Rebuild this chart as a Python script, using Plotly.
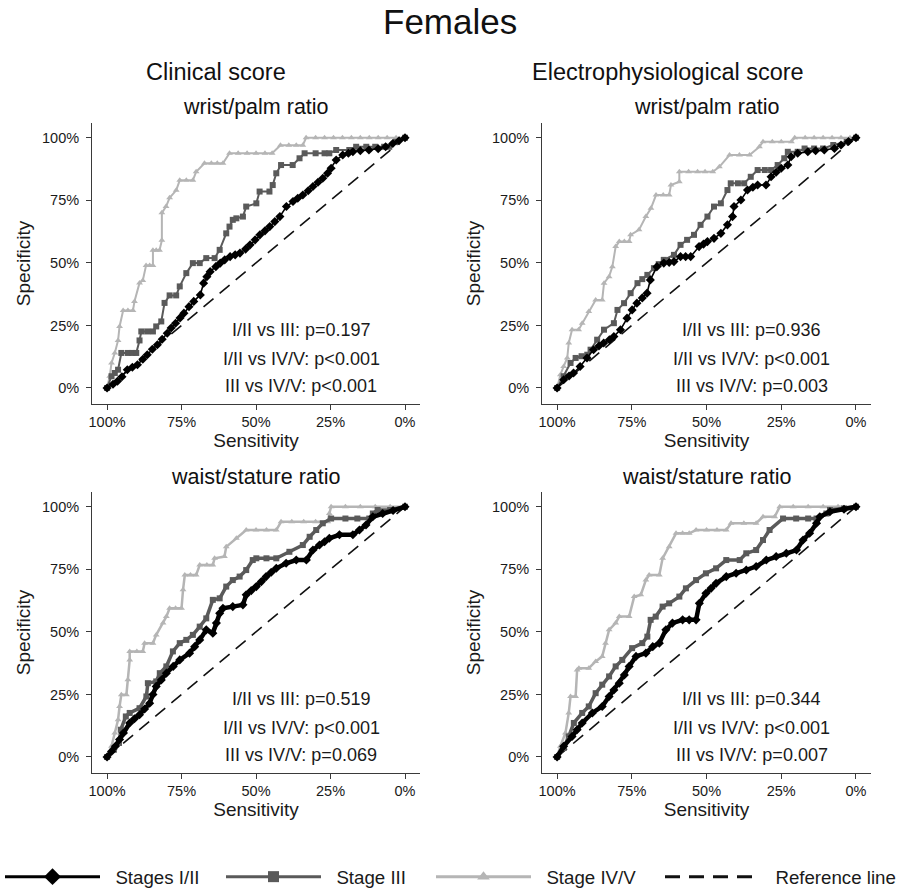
import plotly.graph_objects as go

FONT = "Liberation Sans, Arial, sans-serif"

# ---------------- data: (sensitivity %, specificity %) ----------------
# Panel A: Clinical score, wrist/palm ratio
A_I_II = [(100,0),(98,1.5),(96.5,2.7),(95,4.5),(93.2,7.3),(91.5,8.3),(89.8,9.3),(88,11.5),(86.5,13.3),
          (84.8,15.5),(83.1,17.3),(81.5,19.5),(79.8,21.9),(78.5,24),(77,25.9),(75.5,28),(74.2,29.9),
          (72.5,32.5),(70.9,34.6),(68.7,37.2),(67.6,41.9),(66.5,44.5),(65.4,46.5),(63.5,48.5),(62,49.9),
          (60.5,51.2),(58.7,52.5),(57,53.2),(55.4,53.9),(53.5,55.5),(52,57.2),(50.3,59.2),(48.7,61.2),
          (47,62.8),(45.4,64.5),(43.7,66.5),(42,68.5),(39.8,72.5),(37.6,74.5),(36,75.8),(34.3,77.1),
          (32.5,78.8),(30.9,80.5),(29.2,82.2),(27.6,83.8),(26,85.8),(24.8,87.8),(23.1,91.1),(20.9,93.1),
          (19,93.8),(17.5,94.4),(15,94.8),(12.1,95.1),(9,95.6),(6.5,96.4),(4.1,97.7),(2,98.8),(0,100)]
A_III = [(100,0),(98.5,4.7),(97.4,6),(96.3,7.3),(95.2,14),(93,14),(91.5,14),(90.2,14),(89.1,19),(88.5,22.6),
         (86.5,22.6),(84.6,22.6),(83.5,24.6),(81.8,26.6),(80.7,34),(79,37),(76.8,37),(75.6,40.6),(73.4,45.9),
         (71.2,49.9),(68.9,49.9),(66.7,51.9),(63.9,51.9),(62.2,55.2),(60,61.8),(58.9,64.5),(57.8,67.2),
         (56.6,67.8),(54.4,68.5),(53.3,72.5),(49.9,73.8),(48.8,78.5),(45.5,78.5),(44.4,81.1),(43.2,85.8),
         (41.6,89.1),(37.7,89.1),(35.4,91.8),(33.7,93.8),(30,93.8),(27,93.8),(25.4,93.8),(23.1,95.1),
         (18.7,95.1),(16.4,96.4),(13,96.4),(10,96.4),(7,96.4),(5.3,96.4),(3,98.4),(0,100)]
A_IV_V = [(100,0),(99.1,4.7),(98.5,10),(97.4,14),(96.3,19),(95.8,24.6),(94.6,31),(93,31),(91.3,31),(90.8,34.6),
          (89.1,42),(88,43),(86.9,49),(85.7,49),(84.6,49),(84.6,55),(83.5,55),(82.4,55),(81.6,59),(81.6,70),
          (80.2,72.5),(79,76),(76.8,79),(75.6,83),(73.4,83),(71.2,83),(70.1,86.4),(67.3,89.8),(65,89.8),
          (63,89.8),(61.1,89.8),(58.9,93.8),(56,93.8),(53,93.8),(50,93.8),(47,93.8),(44.6,93.8),(41.8,97),
          (39,97),(36.5,97),(34.3,97),(33.2,100),(30,100),(27,100),(24,100),(21,100),(18,100),(15,100),
          (12,100),(9,100),(6,100),(3,100),(0,100)]

# Panel B: Electrophysiological score, wrist/palm ratio
B_I_II = [(100,0),(97.8,3.3),(96,4.8),(94.5,6),(92.3,8.6),(90,12),(87.8,15.3),(86,16.8),(84.4,18),(82.5,19.3),
          (81,20.6),(78.8,23.3),(76.6,27.9),(74.9,31.2),(73.3,33.9),(71.5,36),(69.9,37.9),(68.8,43.2),
          (66.6,48.5),(64.3,49.9),(62.5,50.2),(60.9,50.5),(58.7,52.5),(57,52.5),(55.3,52.5),(52.5,56.5),
          (51,57.5),(49.7,58.5),(47.5,59.8),(45.2,61.8),(43,65.2),(41.3,68.5),(40.8,72.5),(38.5,75.1),
          (36.3,79.1),(34.5,80.2),(32.9,81.1),(30.1,81.1),(28.4,84.4),(26.7,86.2),(25,87.8),(22.8,89.1),
          (21.7,92.4),(19.5,93.8),(16.1,94.4),(13.5,94.8),(10.6,95.1),(7.2,95.7),(5,97.1),(2.5,98.5),(0,100)]
B_III = [(100,0),(97.8,4.7),(95.5,10),(93.8,12),(91.8,12.7),(89.9,13.3),(88.8,15.3),(86.6,19.3),(84.3,23.3),
         (81,25.9),(79.8,31.2),(77.6,33.9),(75.4,37.9),(73.1,41.9),(71.5,43.5),(69.8,45.2),(67.6,47.9),
         (66,49.5),(64.3,51.2),(60.9,53.2),(58.7,57.2),(56.5,59.2),(54.2,61.2),(52,65.2),(49.7,68.5),
         (47.5,72.5),(45.2,73.8),(43,79.1),(41.9,81.8),(39.5,81.8),(37.4,81.8),(35.2,84.4),(32.9,87.1),
         (30.5,87.1),(28.4,87.1),(26.2,89.1),(24,91.8),(22.8,94.4),(19.5,94.4),(17.2,95.7),(14,95.7),
         (11,95.7),(7.6,97.1),(3.1,98.4),(0,100)]
B_IV_V = [(100,0),(98.9,5.3),(97.8,8.6),(96.6,12),(96.1,18),(95,23.3),(92.8,23.3),(91.6,25.9),(89.4,30.6),
          (87.1,35.2),(84.9,35.2),(84.3,41.9),(82.6,44.5),(81.5,48.5),(80.4,56.5),(79.2,58.5),(77.5,58.5),
          (75.9,58.5),(75.4,61.2),(72.6,63.2),(70.3,68.5),(68.6,71.8),(66.9,77.1),(64.5,77.1),(62.5,77.1),
          (61.9,81.1),(59.1,82.4),(59.1,86.4),(56,86.4),(53,86.4),(50.5,86.4),(47.9,86.4),(45.7,88.4),
          (42.3,93.1),(39,93.1),(35.6,93.1),(32.3,96.4),(31.1,98.4),(28,98.4),(25,98.4),(21.6,98.4),
          (20.5,100),(17,100),(14,100),(11,100),(8,100),(5,100),(2,100),(0,100)]

# Panel C: Clinical score, waist/stature ratio
C_I_II = [(100,0),(98.5,2.2),(97.2,4.3),(95.8,7),(94.5,9.6),(92.4,13.6),(90.8,15.3),(89.1,16.9),(87.4,19.2),
          (85.7,21.5),(84.6,25),(83.5,28.2),(81.8,30.8),(80.1,33.5),(77.8,36.2),(75.6,38.8),(72.3,41.5),
          (70.6,44.1),(68.9,46.8),(66.7,50.8),(64.5,49.5),(63.3,53.5),(62.2,57.4),(61.1,59.4),(57.8,60.1),
          (54.4,60.8),(53.3,64.8),(51.6,66.5),(49.9,68.1),(48.2,70.1),(46.6,72.1),(44.9,73.8),(43.2,75.4),
          (39.9,77.4),(36.5,78.7),(33.1,78.7),(30.9,82.7),(28.7,84.7),(27,86),(25.4,87.4),(22,88.8),
          (17.5,88.8),(15.3,90.7),(13.1,92.7),(10.8,96),(7.5,97.3),(4,98.5),(0,100)]
C_III = [(100,0),(97.7,2.9),(96,5.6),(95.4,10.9),(93.7,16.2),(92.4,17.6),(89.1,19.5),(86.8,24.2),(86.3,29.5),
         (83.5,30.2),(82.3,33.5),(80.1,36.2),(77.9,42.2),(75.6,45.5),(73.4,46.8),(71.2,48.8),(68.9,52.1),
         (66.7,55.4),(64.5,62.8),(62.2,63.4),(60,68.1),(57.8,70.7),(55.5,72.1),(53.3,74.7),(51.1,78.7),
         (49.9,79.4),(46.5,79.4),(43.2,79.4),(38.8,82),(34.3,84.7),(32,88),(29.8,90.7),(27.6,93.4),
         (24.8,95.3),(20,95.3),(16,95.3),(12,95.3),(10.8,97.3),(9.2,98.7),(5,98.7),(0,100)]
C_IV_V = [(100,0),(98.5,4.3),(97.4,9.6),(96.3,14.9),(95.8,20.2),(95.2,24.9),(93.5,24.9),(93,30.9),(92.4,38.8),
          (92.4,42.2),(90,42.2),(88,42.2),(87.4,45.5),(84.6,45.5),(83.5,48.8),(81.2,53.5),(80.1,56.1),
          (79,59.4),(77,59.4),(75,59.4),(74.5,66.8),(73.9,72.7),(72,72.7),(70.1,72.7),(68.9,76.7),(66.5,76.7),
          (64.5,76.7),(63.9,79.4),(60.6,80.1),(60,84),(56.6,87.4),(53.3,90.7),(50,90.7),(46.5,90.7),
          (43.2,90.7),(41.6,94),(38,94),(34,94),(30,94),(25.9,94),(25.4,97.3),(24.8,100),(20,100),(15,100),
          (10,100),(5,100),(0,100)]

# Panel D: Electrophysiological score, waist/stature ratio
D_I_II = [(100,0),(97.8,4.3),(95,8.2),(93.3,10.9),(91.6,13.6),(88.2,17.6),(84.9,20.2),(82.6,24.2),(81,26.8),
          (79.2,29.5),(77.5,32.8),(75.9,36.2),(73.6,40.2),(70.3,41.5),(68,44.1),(65.8,45.5),(63.6,50.8),
          (61.4,53.5),(58,54.8),(55.8,54.8),(53.5,54.8),(52.4,61.4),(50.2,65.4),(48.5,67.4),(46.8,69.4),
          (43.4,72.1),(40.1,73.4),(36.7,74.7),(33.4,76.1),(30,78.7),(26.7,80.1),(23.3,81.4),(19.9,82.7),
          (17.7,86.7),(15.5,89.4),(13.2,93.4),(12.1,96),(8.7,98),(4,99),(0,100)]
D_III = [(100,0),(97.8,3.6),(96.1,8.2),(94.4,13.6),(91.6,17.6),(89.4,20.2),(87.1,25.5),(84.9,28.9),(82.6,32.2),
         (80.4,36.2),(78.2,38.8),(74.9,43.5),(71.5,45.5),(69.8,48.1),(68.7,54.8),(67,56.1),(64.7,60.1),
         (62.5,61.4),(59.1,64.1),(56.9,67.4),(53.5,70.7),(50.2,73.4),(46.8,75.4),(43.4,78.7),(38.9,78.7),
         (36.7,81.4),(33.4,82.7),(31.1,86.7),(28.9,90.7),(24.4,95.3),(20,95.3),(16,95.3),(13.2,95.3),
         (9.9,97.3),(8.7,98.7),(4,99.3),(0,100)]
D_IV_V = [(100,0),(98.9,4.3),(97.2,9.6),(96.1,17.6),(95.5,24.2),(93.8,24.2),(93.3,34.8),(92.7,35.5),(89.4,35.5),
          (87.1,38.2),(84.9,40.2),(83.8,45.5),(82.6,50.8),(80.4,53.5),(79.2,56.1),(75.9,56.1),(74.2,64.1),
          (72,64.8),(70.3,70.7),(69.2,72.7),(65.8,72.7),(64.7,79.4),(62.5,84),(60.2,89.4),(58,89.4),
          (55.8,89.4),(53.5,90.7),(50,90.7),(46.5,90.7),(43.4,90.7),(41.8,93.4),(37.5,93.4),(33.4,93.4),
          (31.1,96),(27.2,96),(25.5,100),(21,100),(16,100),(11,100),(6,100),(0,100)]

REF_SENS = [100, 0]
REF_SPEC = [0, 100]

TICK_VALS = [100, 75, 50, 25, 0]
TICK_TEXT = ["100%", "75%", "50%", "25%", "0%"]

PANELS = [
    dict(curves=(A_I_II, A_III, A_IV_V), pvals=["I/II vs III: p=0.197", "I/II vs IV/V: p<0.001", "III vs IV/V: p<0.001"]),
    dict(curves=(B_I_II, B_III, B_IV_V), pvals=["I/II vs III: p=0.936", "I/II vs IV/V: p<0.001", "III vs IV/V: p=0.003"]),
    dict(curves=(C_I_II, C_III, C_IV_V), pvals=["I/II vs III: p=0.519", "I/II vs IV/V: p<0.001", "III vs IV/V: p=0.069"]),
    dict(curves=(D_I_II, D_III, D_IV_V), pvals=["I/II vs III: p=0.344", "I/II vs IV/V: p<0.001", "III vs IV/V: p=0.007"]),
]
SERIES_NAMES = ["Stages I/II", "Stage III", "Stage IV/V"]
REF_NAME = "Reference line"
COLUMN_TITLES = ["Clinical score", "Electrophysiological score"]
ROW_TITLES = ["wrist/palm ratio", "waist/stature ratio"]
MAIN_TITLE = "Females"

# ---------------- layout geometry (figure pixels) ----------------
W, H = 900, 888
X_DOM = [(92, 420), (542, 871)]
Y_DOM = [(123, 404), (492, 773)]
LEGEND_X = [0, 221, 431, 660]   # left edge of each legend entry box (px)

def xd(a, b):
    return [a / W, b / W]

def yd(top, bot):
    return [1 - bot / H, 1 - top / H]

COLORS = ["#000000", "#5a5a5a", "#b5b5b5"]
SYMBOLS = ["diamond", "square", "triangle-up"]
TXT = "#1a1a1a"
AXC = "#3a3a3a"

fig = go.Figure()
layout = dict(
    width=W, height=H, margin=dict(l=0, r=0, t=0, b=0, autoexpand=False),
    paper_bgcolor="white", plot_bgcolor="white",
    font=dict(family=FONT, color=TXT),
    annotations=[], showlegend=True,
)

for i, panel in enumerate(PANELS):
    row, col = divmod(i, 2)
    k = "" if i == 0 else str(i + 1)
    xa, ya = "x" + k, "y" + k
    layout["xaxis" + k] = dict(
        domain=xd(*X_DOM[col]), anchor=ya, range=[105.05, -5.03],
        tickvals=TICK_VALS, ticktext=TICK_TEXT, showline=True, linecolor=AXC, linewidth=1,
        ticks="outside", ticklen=5, tickcolor=AXC, showgrid=False, zeroline=False,
        tickfont=dict(size=14.5, color=TXT),
        title=dict(text="Sensitivity", font=dict(size=19, color=TXT), standoff=0),
    )
    layout["yaxis" + k] = dict(
        domain=yd(*Y_DOM[row]), anchor=xa, range=[-6.4, 105.9],
        tickvals=TICK_VALS, ticktext=TICK_TEXT, showline=True, linecolor=AXC, linewidth=1,
        ticks="outside", ticklen=5, tickcolor=AXC, showgrid=False, zeroline=False,
        tickfont=dict(size=14.5, color=TXT), ticklabelstandoff=4,
        title=dict(text="Specificity", font=dict(size=19, color=TXT), standoff=6),
    )
    # reference line
    fig.add_trace(go.Scatter(
        x=REF_SENS, y=REF_SPEC, xaxis=xa, yaxis=ya, mode="lines", name=REF_NAME,
        line=dict(color="#111111", width=1.6, dash="13px,8px"),
        showlegend=False, hoverinfo="skip",
    ))
    thick = row == 1
    widths = [4.5 if thick else 1.6, 3.5 if thick else 2, 2.5 if thick else 2]
    for j in [2, 1, 0]:
        pts = panel["curves"][j]
        fig.add_trace(go.Scatter(
            x=[p[0] for p in pts], y=[p[1] for p in pts], xaxis=xa, yaxis=ya,
            mode="lines+markers", name=SERIES_NAMES[j],
            line=dict(color=COLORS[j], width=widths[j]),
            marker=dict(symbol=SYMBOLS[j], size=7 if j == 0 else 6, color=COLORS[j]),
            showlegend=False,
        ))
    for n, txt in enumerate(panel["pvals"]):
        layout["annotations"].append(dict(
            text=txt, xref=xa, yref=ya, x=34.8, y=[23.2, 11.6, 0.6][n],
            showarrow=False, font=dict(size=18, color=TXT), xanchor="center", yanchor="middle",
        ))

# legend entries (style only, no data), one legend box per entry
NBSP = "\u00a0\u00a0"
LEG_IDS = ["legend", "legend2", "legend3", "legend4"]
for j in range(3):
    fig.add_trace(go.Scatter(
        x=[None], y=[None], mode="lines+markers", name=NBSP + SERIES_NAMES[j],
        line=dict(color=COLORS[j], width=3),
        marker=dict(symbol=SYMBOLS[j], size=[13, 11, 11][j], color=COLORS[j]),
        legend=LEG_IDS[j], showlegend=True,
    ))
fig.add_trace(go.Scatter(
    x=[None], y=[None], mode="lines", name=NBSP + REF_NAME,
    line=dict(color="#111111", width=3, dash="15px,9px"), legend=LEG_IDS[3], showlegend=True,
))

# titles
def paper_text(t, xc, yc, size):
    return dict(text=t, xref="paper", yref="paper", x=xc / W, y=1 - yc / H, xanchor="center",
                yanchor="middle", showarrow=False, font=dict(size=size, color="#111111"))

layout["annotations"].append(paper_text(MAIN_TITLE, 450, 22, 35))
for t, xc in zip(COLUMN_TITLES, [216, 668]):
    layout["annotations"].append(paper_text(t, xc, 72, 23.5))
for t, xc in zip(ROW_TITLES[:1] * 2, [256, 706.5]):
    layout["annotations"].append(paper_text(t, xc, 107, 21.5))
for t, xc in zip(ROW_TITLES[1:] * 2, [256, 706.5]):
    layout["annotations"].append(paper_text(t, xc, 477, 21.5))

for lid, lx in zip(LEG_IDS, LEGEND_X):
    layout[lid] = dict(
        orientation="h", x=lx / W, xanchor="left", y=1 - 877 / H, yanchor="middle",
        font=dict(size=18.7, color=TXT), itemwidth=95, bgcolor="rgba(0,0,0,0)",
    )

fig.update_layout(**layout)
fig.write_html("out.html", post_script="document.body.style.margin='0px';",
               config={"displayModeBar": False})
